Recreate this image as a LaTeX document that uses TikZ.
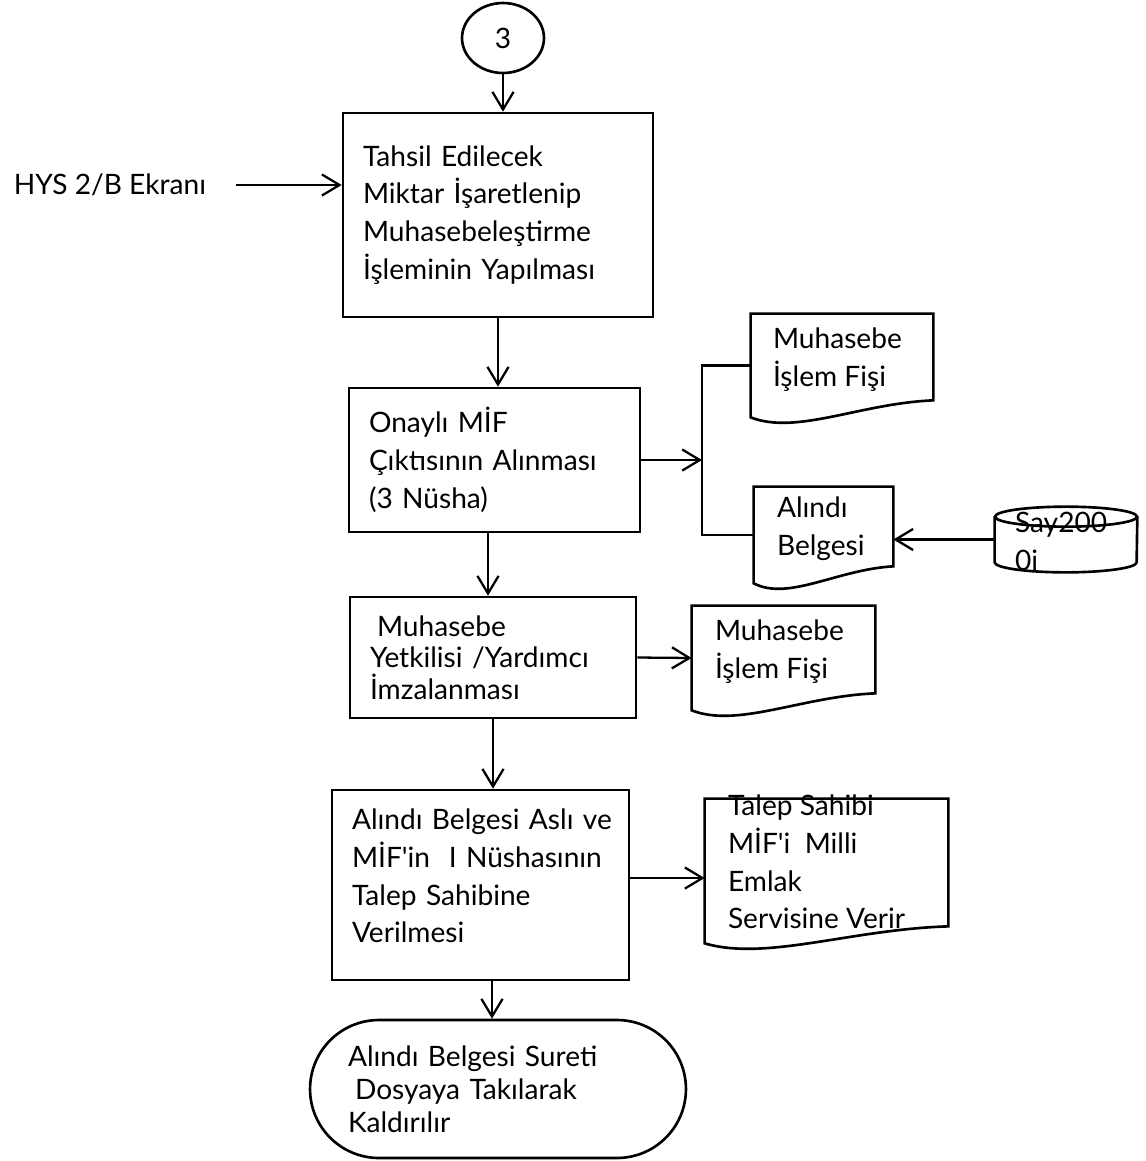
\documentclass[tikz,border=0pt]{standalone}
\usepackage{fontspec}
\setmainfont{Lato}[Ligatures=TeXOff]
\usepackage{tikz}
\usetikzlibrary{arrows.meta,positioning,calc,shapes.geometric}

\begin{document}
\begin{tikzpicture}[x=0.02cm,y=-0.02cm]
\tikzstyle{ok}=[-{Straight Barb[length=10pt,width=12pt]},line width=1.3pt]
\tikzstyle{cizgi}=[line width=1.3pt]
\tikzstyle{yazi}=[font=\fontsize{16}{21.5}\selectfont]
\tikzstyle{kutu}=[yazi,draw,line width=1.5pt,rectangle,align=left,inner xsep=0.4cm,inner ysep=0pt]
\tikzstyle{belge}=[rectangle,inner sep=0pt]
\tikzstyle{belgeyazi}=[yazi,align=left,inner sep=0pt,anchor=west]
\tikzstyle{daire}=[yazi,ellipse,draw,line width=1.5pt,inner sep=0pt,minimum width=1.64cm,minimum height=1.4cm]
\tikzstyle{bitis}=[kutu,rounded corners=1.38cm]
\def\BelgeKenar#1{\draw[line width=1.5pt] (#1.south west) -- (#1.north west) -- (#1.north east) -- ($(#1.south east)+(0,-17)$) .. controls ($(#1.south east)!0.4!(#1.south west)+(0,-14)$) and ($(#1.south east)!0.75!(#1.south west)+(0,18)$) .. (#1.south west) -- cycle;}
\def\SilindirKenar#1{\draw[line width=1.5pt] ($(#1.north west)+(0,10)$) -- ($(#1.south west)+(0,-10)$) arc[start angle=180,end angle=360,x radius=1.42cm,y radius=0.2cm] -- ($(#1.north east)+(0,10)$);
\draw[line width=1.5pt] ($(#1.north)+(0,10)$) ellipse[x radius=1.42cm,y radius=0.2cm];}
\useasboundingbox (0,0) rectangle (1146,1161);
% ana akis
\node[daire] (uc) at (503,38) {3};
\node[kutu,minimum width=6.2cm,minimum height=4.08cm,text width=5.4cm] (kutu1) at (498,215) {Tahsil Edilecek\\Miktar İşaretlenip\\Muhasebeleştirme\\İşleminin Yapılması};
\node[yazi] (ekran) at (110,185) {HYS 2/B Ekranı};
\node[kutu,minimum width=5.82cm,minimum height=2.88cm,text width=5.02cm] (kutu2) at (494.5,460) {Onaylı MİF\\Çıktısının Alınması\\(3 Nüsha)};
\node[kutu,minimum width=5.72cm,minimum height=2.42cm,text width=4.92cm,font=\fontsize{16}{18}\selectfont] (kutu3) at (493,657.5) {\hspace*{0.25em}Muhasebe\\Yetkilisi /Yardımcı\\İmzalanması};
\node[kutu,minimum width=5.94cm,minimum height=3.8cm,text width=5.14cm] (kutu4) at (480.5,885) {\mbox{Alındı Belgesi Aslı ve}\\\mbox{MİF'in\ \ I Nüshasının}\\Talep Sahibine\\Verilmesi\\[-11pt]\mbox{}};
\node[bitis,minimum width=7.52cm,minimum height=2.76cm,text width=6cm,inner xsep=0.76cm,font=\fontsize{16}{18.7}\selectfont] (bitis) at (498,1089) {Alındı Belgesi Sureti\\\hspace*{0.25em}Dosyaya Takılarak\\Kaldırılır};
% belgeler
\node[belge,minimum width=3.64cm,minimum height=2.06cm] (fis1) at (842,365.5) {};
\BelgeKenar{fis1}
\node[belgeyazi] (fis1yazi) at ($(fis1.west)+(22,-6)$) {Muhasebe\\İşlem Fişi};
\node[belge,minimum width=2.78cm,minimum height=1.92cm] (alindi) at (823.5,535) {};
\BelgeKenar{alindi}
\node[belgeyazi] (alindiyazi) at ($(alindi.west)+(23,-6)$) {Alındı\\Belgesi};
\node[belge,minimum width=2.84cm,minimum height=1.3cm] (say) at (1066,539.5) {};
\SilindirKenar{say}
\node[belgeyazi] (sayyazi) at ($(say.west)+(20,2)$) {Say200\\0i};
\node[belge,minimum width=3.66cm,minimum height=2.08cm] (fis2) at (783.5,658) {};
\BelgeKenar{fis2}
\node[belgeyazi] (fis2yazi) at ($(fis2.west)+(23,-6)$) {Muhasebe\\İşlem Fişi};
\node[belge,minimum width=4.86cm,minimum height=2.88cm] (talep) at (826.5,871) {};
\BelgeKenar{talep}
\node[belgeyazi] (talepyazi) at ($(talep.west)+(23,-9)$) {Talep Sahibi\\MİF'i\ \ Milli\\Emlak\\Servisine Verir};
% baglantilar
\coordinate (catal) at (702,460);
\draw[ok] (uc) -- (uc |- kutu1.north);
\draw[ok,shorten <=0.48cm] (ekran.east) -- (ekran.east -| kutu1.west);
\draw[ok] (kutu1.south) -- (kutu1.south |- kutu2.north);
\draw[ok] (kutu2.east) -- (catal);
\draw[cizgi] (fis1.west) -| (catal) |- (alindi.west);
\draw[ok] (say.west) -- (say.west -| alindi.east);
\draw[ok] ([xshift=-0.13cm]kutu2.south) -- ([xshift=-0.13cm]kutu2.south |- kutu3.north);
\draw[ok] (kutu3.east) -- (fis2.west);
\draw[ok] (kutu3.south) -- (kutu3.south |- kutu4.north);
\draw[ok] ([yshift=0.14cm]kutu4.east) -- ([yshift=0.14cm]kutu4.east -| talep.west);
\draw[ok] ([xshift=0.23cm]kutu4.south) -- ([xshift=0.23cm]kutu4.south |- bitis.north);
\end{tikzpicture}
\end{document}
